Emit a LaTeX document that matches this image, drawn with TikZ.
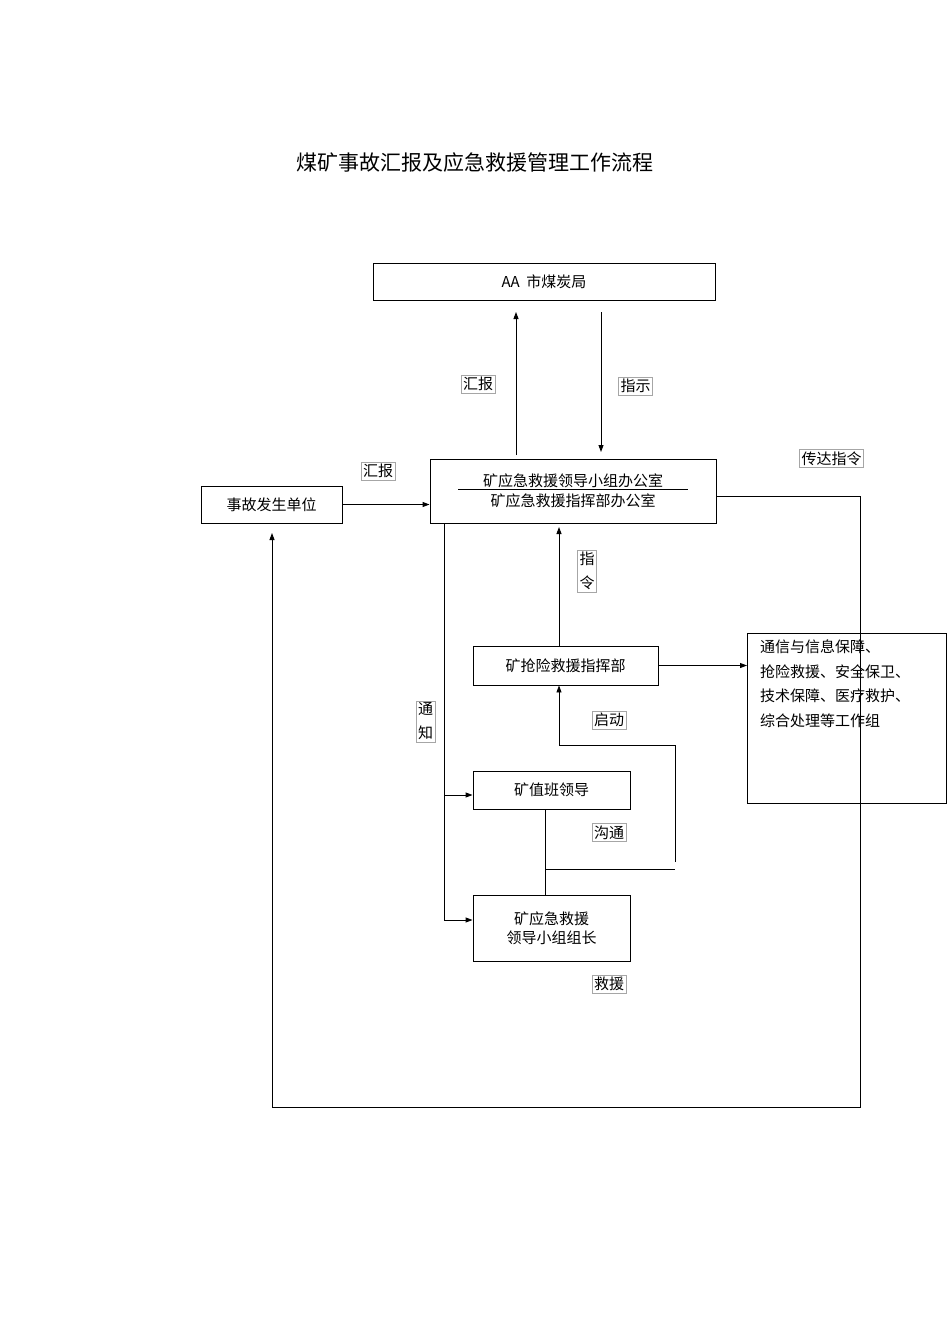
\documentclass[tikz,border=0pt]{standalone}
\usepackage{fontspec}
\setmainfont{Noto Sans CJK SC}
\usetikzlibrary{arrows.meta}
\begin{document}
\begin{tikzpicture}[x=1pt,y=-1pt,
 box/.style={draw,line width=0.9pt,inner sep=0pt,font=\fontsize{15}{19}\selectfont},
 lab/.style={draw=gray!70,line width=0.5pt,inner sep=2pt,font=\fontsize{15}{18}\selectfont},
 arr/.style={-{Triangle[length=7pt,width=5pt]},line width=0.9pt},
 ln/.style={line width=0.9pt}]
\useasboundingbox (0,0) rectangle (950,1344);
\node[font=\fontsize{21}{24}\selectfont] (title) at (475,163) {煤矿事故汇报及应急救援管理工作流程};
\node[box,minimum width=342pt,minimum height=37pt] (city) at (544,281.5) {AA\ \ 市煤炭局};
\node[box,minimum width=286pt,minimum height=64pt,align=center] (main) at (573,491) {矿应急救援领导小组办公室\\[1pt]矿应急救援指挥部办公室};
\draw[line width=0.8pt] (458,489) -- (688,489);
\node[box,minimum width=141pt,minimum height=37pt] (unit) at (271.5,504.5) {事故发生单位};
\node[box,minimum width=185pt,minimum height=39pt] (cmd) at (565.5,665.5) {矿抢险救援指挥部};
\node[box,minimum width=199pt,minimum height=170pt,align=left,anchor=north west,text depth=0pt] (grp) at (747,633) {};
\node[align=left,anchor=north west,font=\fontsize{15}{24.5}\selectfont,inner sep=0pt] (grpt) at (760,640) {通信与信息保障、\\抢险救援、安全保卫、\\技术保障、医疗救护、\\综合处理等工作组};
\node[box,minimum width=157pt,minimum height=38pt] (duty) at (551.5,790) {矿值班领导};
\node[box,minimum width=157pt,minimum height=66pt,align=center] (lead) at (551.5,928) {矿应急救援\\领导小组组长};
% labels
\node[lab] (l1) at (478,384) {汇报};
\node[lab] (l2) at (635.5,386) {指示};
\node[lab] (l3) at (378,471) {汇报};
\node[lab] (l4) at (831.5,458.5) {传达指令};
\node[lab,align=center,font=\fontsize{15}{24}\selectfont] (l5) at (587,571) {指\\令};
\node[lab,align=center,font=\fontsize{15}{24}\selectfont] (l6) at (425.5,721.5) {通\\知};
\node[lab] (l7) at (609,720) {启动};
\node[lab] (l8) at (609,832.5) {沟通};
\node[lab] (l9) at (609,984) {救援};
% connectors
\coordinate (c1) at (516,455);
\draw[arr] (c1) -- (516,312);
\draw[arr] (601,312) -- (601,452);
\draw[arr] (unit.east) -- (main.west|-unit.east);
\coordinate (r1) at (860,496);
\coordinate (r2) at (860,1107);
\coordinate (r3) at (272,1107);
\draw[ln] (main.east|-r1) -- (r1) -- (r2) -- (r3);
\draw[arr] (r3) -- (272,533);
\draw[arr] (cmd.east) -- (grp.west|-cmd.east);
\draw[arr] (cmd.north-|559,0) -- (559,527);
\coordinate (v1) at (444,523);
\coordinate (v2) at (444,920);
\draw[ln] (v1) -- (v2);
\draw[arr] (444,795) -- (duty.west|-0,795);
\draw[arr] (v2) -- (lead.west|-v2);
\coordinate (s1) at (675,862);
\coordinate (s2) at (675,745);
\coordinate (s3) at (559,745);
\draw[ln] (s1) -- (s2) -- (s3);
\draw[arr] (s3) -- (cmd.south-|559,0);
\coordinate (h2) at (675,869);
\draw[ln] (duty.south-|545,0) -- (lead.north-|545,0);
\draw[ln] (545,869) -- (h2);
\end{tikzpicture}
\end{document}
